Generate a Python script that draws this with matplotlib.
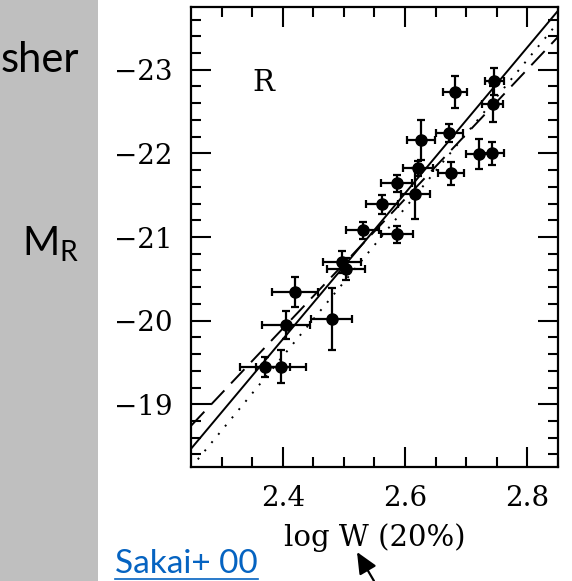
import numpy as np
import matplotlib
matplotlib.use("Agg")
import matplotlib.pyplot as plt
from matplotlib.patches import Rectangle, FancyArrowPatch
from matplotlib.lines import Line2D

# Datos (Sakai+ 00, banda R)
logw = [2.682, 2.746, 2.743, 2.626, 2.672, 2.721, 2.742, 2.675, 2.621, 2.586, 2.617,
        2.562, 2.531, 2.587, 2.497, 2.503, 2.420, 2.405, 2.480, 2.371, 2.397]
mag_r = [-22.73, -22.86, -22.59, -22.16, -22.24, -21.99, -22.00, -21.76, -21.82, -21.64, -21.52,
         -21.39, -21.08, -21.03, -20.70, -20.62, -20.34, -19.95, -20.02, -19.45, -19.45]
err_logw = [0.020, 0.016, 0.017, 0.023, 0.022, 0.022, 0.019, 0.022, 0.024, 0.025, 0.024,
            0.026, 0.027, 0.026, 0.031, 0.031, 0.038, 0.039, 0.034, 0.041, 0.041]
err_mag = [0.19, 0.16, 0.21, 0.24, 0.11, 0.18, 0.14, 0.135, 0.09, 0.10, 0.31,
           0.11, 0.10, 0.10, 0.13, 0.13, 0.18, 0.17, 0.37, 0.12, 0.195]

# Ajustes: M = pendiente * (logW - 2.5) + punto cero
fit_slope = [-8.73, -7.75, -8.87]
fit_zero = [-20.65, -20.68, -20.46]
fit_styles = [dict(ls='-'), dict(dashes=(10, 5)), dict(dashes=(1, 4.5))]

xticks = [2.4, 2.6, 2.8]
yticks = [-23, -22, -21, -20, -19]

W, H = 572, 581
fig = plt.figure(figsize=(W / 100, H / 100), dpi=100)

# Panel gris de la diapositiva
fig.patches.append(Rectangle((0, 0), 98 / W, 1, transform=fig.transFigure,
                             facecolor='#bfbfbf', edgecolor='none', zorder=0))
fig.text(1 / W, 1 - 72 / H, 'sher', ha='left', va='baseline', fontsize=30,
         family='Lato', color='black')
fig.text(22 / W, 1 - 255 / H, r'M$_\mathregular{R}$', ha='left', va='baseline',
         fontsize=29, family='Lato', color='black')
fig.text(115 / W, 1 - 573 / H, 'Sakai+ 00', ha='left', va='baseline', fontsize=24,
         family='Lato', color='#0563c1')
fig.lines.append(Line2D([115 / W, 258 / W], [1 - 579 / H, 1 - 579 / H],
                        transform=fig.transFigure, color='#0563c1', lw=1.2))

ax = fig.add_axes([191 / W, 1 - 467 / H, (558 - 191) / W, (467 - 7) / H])
ax.set_xlim(2.25, 2.85)
ax.set_ylim(-18.25, -23.75)

xs = np.array(ax.get_xlim())
for a, b, st in zip(fit_slope, fit_zero, fit_styles):
    ax.plot(xs, a * (xs - 2.5) + b, color='black', lw=1.4, **st)

ax.errorbar(logw, mag_r, xerr=err_logw, yerr=err_mag, fmt='o', color='black',
            ms=8, elinewidth=1.6, capsize=3.2, capthick=1.6)

ax.text(2.368, -22.84, 'R', ha='center', va='center', fontsize=21, family='DejaVu Serif')

ax.set_xticks(xticks)
ax.set_yticks(yticks)
ax.set_xticks(np.arange(2.30, 2.851, 0.05), minor=True)
ax.set_yticks(np.arange(-23.6, -18.29, 0.2), minor=True)
ax.set_xticklabels([f'{t:.1f}' for t in xticks])
ax.set_yticklabels(['\u2212' + str(abs(t)) for t in yticks])
ax.tick_params(which='both', direction='in', top=True, right=True, width=1.5,
               labelsize=20)
ax.tick_params(which='major', length=14.5, pad=13)
ax.tick_params(which='minor', length=7)
for lab in ax.get_xticklabels() + ax.get_yticklabels():
    lab.set_family('DejaVu Serif')
for s in ax.spines.values():
    s.set_linewidth(1.6)

ax.set_xlabel('log W (20%)', fontsize=21, family='DejaVu Serif', labelpad=8)

# Flecha del puntero
fig.add_artist(FancyArrowPatch(
    (374 / W, 0.0), (357 / W, 1 - 552 / H), transform=fig.transFigure,
    arrowstyle='-|>,head_length=1.0,head_width=0.45', mutation_scale=13,
    shrinkA=0, shrinkB=0, color='black', lw=1.6))

fig.savefig('out.png', dpi=100)
